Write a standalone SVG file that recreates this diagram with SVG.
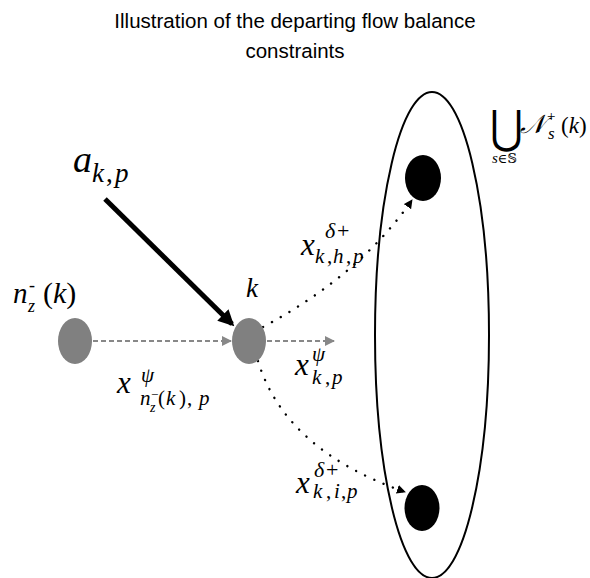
<svg xmlns="http://www.w3.org/2000/svg" width="590" height="578" viewBox="0 0 590 578">
<defs>
<marker id="ga" viewBox="0 0 10 10" refX="9" refY="5" markerWidth="10" markerHeight="10" markerUnits="userSpaceOnUse" orient="auto"><path d="M0,0 L10,5 L0,10 z" fill="#888"/></marker>
<marker id="ba" viewBox="0 0 10 10" refX="9" refY="5" markerWidth="9" markerHeight="9" markerUnits="userSpaceOnUse" orient="auto"><path d="M0,0 L10,5 L0,10 z" fill="#000"/></marker>
<marker id="big" viewBox="0 0 10 10" refX="8" refY="5" markerWidth="16" markerHeight="16" markerUnits="userSpaceOnUse" orient="auto"><path d="M0,0 L10,5 L0,10 z" fill="#000"/></marker>
</defs>
<g id="title">
<text x="295" y="28" font-family="Liberation Sans" font-size="20.5" text-anchor="middle">Illustration of the departing flow balance</text>
<text x="295" y="58" font-family="Liberation Sans" font-size="20.5" text-anchor="middle">constraints</text>
</g>

<ellipse id="set" cx="432" cy="335" rx="57" ry="243" fill="none" stroke="#000" stroke-width="2"/>

<g id="connectors" fill="none">
<line x1="93" y1="341" x2="231" y2="341" stroke="#888" stroke-width="2" stroke-dasharray="5 3" marker-end="url(#ga)"/>
<line x1="267" y1="341" x2="334" y2="341" stroke="#888" stroke-width="2" stroke-dasharray="5 3" marker-end="url(#ga)"/>
<line x1="105" y1="199" x2="232" y2="324" stroke="#000" stroke-width="5" marker-end="url(#big)"/>
<path d="M263,327 Q360,275 412,200" stroke="#000" stroke-width="2.4" stroke-dasharray="0.1 10" stroke-linecap="round" marker-end="url(#ba)"/>
<path d="M258,361 Q285,450 405,492" stroke="#000" stroke-width="2.4" stroke-dasharray="0.1 10" stroke-linecap="round" marker-end="url(#ba)"/>
</g>

<g id="node-nz"><ellipse cx="75" cy="341" rx="17" ry="23" fill="#808080"/></g>
<g id="node-k"><ellipse cx="249" cy="341" rx="17" ry="23" fill="#808080"/></g>
<g id="node-h"><ellipse cx="423" cy="178" rx="18" ry="23" fill="#000"/></g>
<g id="node-i"><ellipse cx="422" cy="508" rx="17.5" ry="23" fill="#000"/></g>

<g id="labels">
<text font-family="Liberation Serif" font-style="italic" x="73" y="172" font-size="38">a</text>
<text font-family="Liberation Serif" font-style="italic" y="182" font-size="27"><tspan x="92">k</tspan><tspan font-style="normal" x="106">,</tspan><tspan x="115">p</tspan></text>

<text font-family="Liberation Serif" font-style="italic" x="13" y="303" font-size="29">n</text>
<text font-family="Liberation Serif" font-style="normal" x="29" y="291" font-size="18">-</text>
<text font-family="Liberation Serif" font-style="italic" x="28" y="312" font-size="18">z</text>
<text font-family="Liberation Serif" font-style="italic" x="43" y="303" font-size="30"><tspan font-style="normal">(</tspan>k<tspan font-style="normal">)</tspan></text>

<text font-family="Liberation Serif" font-style="italic" x="246" y="297" font-size="27">k</text>

<text font-family="Liberation Serif" font-style="italic" x="117" y="393" font-size="31">x</text>
<text font-family="Liberation Serif" font-style="italic" x="141" y="382" font-size="21">ψ</text>
<text font-family="Liberation Serif" font-style="italic" x="140" y="405" font-size="21">n</text>
<text font-family="Liberation Serif" font-style="normal" x="151" y="399" font-size="13">−</text>
<text font-family="Liberation Serif" font-style="italic" x="150" y="412" font-size="14">z</text>
<text font-family="Liberation Serif" font-style="italic" y="405" font-size="21"><tspan font-style="normal" x="158">(</tspan><tspan x="166">k</tspan><tspan font-style="normal" x="179">)</tspan><tspan font-style="normal" x="187">,</tspan><tspan x="199">p</tspan></text>

<text font-family="Liberation Serif" font-style="italic" x="295" y="375" font-size="31">x</text>
<text font-family="Liberation Serif" font-style="italic" x="312" y="361" font-size="21">ψ</text>
<text font-family="Liberation Serif" font-style="italic" y="384" font-size="21"><tspan x="312">k</tspan><tspan font-style="normal" x="325">,</tspan><tspan x="332">p</tspan></text>

<text font-family="Liberation Serif" font-style="italic" x="301" y="255" font-size="31">x</text>
<text font-family="Liberation Serif" font-style="italic" y="238" font-size="22"><tspan x="325">δ</tspan><tspan font-style="normal" x="337">+</tspan></text>
<text font-family="Liberation Serif" font-style="italic" y="263" font-size="21"><tspan x="315">k</tspan><tspan font-style="normal" x="327">,</tspan><tspan x="333">h</tspan><tspan font-style="normal" x="346">,</tspan><tspan x="353">p</tspan></text>

<text font-family="Liberation Serif" font-style="italic" x="296" y="493" font-size="31">x</text>
<text font-family="Liberation Serif" font-style="italic" y="477" font-size="22"><tspan x="314">δ</tspan><tspan font-style="normal" x="326">+</tspan></text>
<text font-family="Liberation Serif" font-style="italic" y="498" font-size="21"><tspan x="313">k</tspan><tspan font-style="normal" x="326">,</tspan><tspan x="334">i</tspan><tspan font-style="normal" x="341">,</tspan><tspan x="347">p</tspan></text>

<text font-family="DejaVu Sans" font-size="40" fill="#000" transform="translate(490,143) scale(1,1.15)">⋃</text>
<text font-family="Liberation Serif" font-style="italic" x="520" y="133" font-size="26">𝒩</text>
<text font-family="Liberation Serif" font-style="normal" x="547" y="121" font-size="15">+</text>
<text font-family="Liberation Serif" font-style="italic" x="548" y="139" font-size="17">s</text>
<text font-family="Liberation Serif" font-style="italic" x="561" y="133" font-size="23"><tspan font-style="normal">(</tspan>k<tspan font-style="normal">)</tspan></text>
<text font-family="Liberation Serif" font-style="italic" x="492" y="163" font-size="15">s<tspan font-style="normal" font-family="DejaVu Serif" font-size="13">∈𝕊</tspan></text>
</g>
</svg>
